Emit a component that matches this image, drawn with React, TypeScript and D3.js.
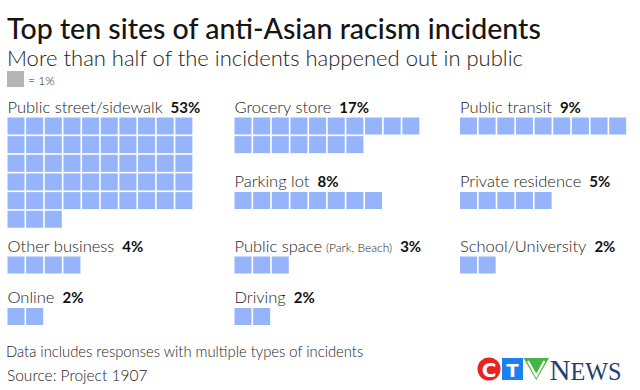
import { useEffect, useRef } from "react";
import * as d3 from "d3";

// site categories and share of incidents (1 square = 1%)
const categories = [
  "Public street/sidewalk",
  "Grocery store",
  "Public transit",
  "Parking lot",
  "Private residence",
  "Other business",
  "Public space",
  "School/University",
  "Online",
  "Driving",
];
const values = [53, 17, 9, 8, 5, 4, 3, 2, 2, 2];
const notes = ["", "", "", "", "", "", "(Park, Beach)", "", "", ""];

// which column / row block each category sits in
const slotCol = [0, 1, 2, 1, 2, 0, 1, 2, 0, 1];
const slotRow = [0, 0, 0, 1, 1, 2, 2, 2, 3, 3];

const W = 640;
const H = 390;
const FONT = "Lato, 'Open Sans', sans-serif";
const CELL_COLOR = "#95b4fb";
const TEXT = "#222";

export default function App() {
  const svgRef = useRef<SVGSVGElement | null>(null);

  useEffect(() => {
    if (!svgRef.current) return;
    const svg = d3.select(svgRef.current);
    svg.selectAll("*").remove();

    svg.append("rect").attr("width", W).attr("height", H).attr("fill", "#fff");

    // title + subtitle
    svg.append("text")
      .attr("x", 7).attr("y", 39)
      .style("font", `500 28.5px ${FONT}`)
      .attr("fill", "#151515")
      .text("Top ten sites of anti-Asian racism incidents");
    svg.append("text")
      .attr("x", 7).attr("y", 66)
      .style("font", `300 22px ${FONT}`)
      .attr("fill", "#222")
      .text("More than half of the incidents happened out in public");

    // legend
    svg.append("rect").attr("x", 7).attr("y", 71).attr("width", 17).attr("height", 16).attr("fill", "#b5b5b5");
    svg.append("text")
      .attr("x", 28).attr("y", 84.5)
      .style("font", `300 12px ${FONT}`)
      .attr("fill", TEXT)
      .text("= 1%");

    const step = 18.65;
    const cell = 17;
    const perRow = 10;

    const colX = d3.scaleOrdinal<number, number>().domain([0, 1, 2]).range([7.5, 234.5, 460]);
    const rowY = d3.scaleOrdinal<number, number>().domain([0, 1, 2, 3]).range([117.5, 192, 256.5, 308]);

    const groups = categories.map((name, i) => ({
      name,
      value: values[i],
      note: notes[i],
      x: colX(slotCol[i]),
      y: rowY(slotRow[i]),
    }));

    const g = svg.selectAll("g.site").data(groups).enter().append("g")
      .attr("class", "site")
      .attr("transform", (d) => `translate(${d.x},${d.y})`);

    const label = g.append("text")
      .attr("x", 0).attr("y", -5)
      .style("font", `300 16.5px ${FONT}`)
      .attr("fill", TEXT);
    label.append("tspan").text((d) => d.name);
    label.filter((d) => !!d.note).append("tspan")
      .attr("dx", 4)
      .style("font-size", "12px")
      .text((d) => d.note);
    label.append("tspan")
      .attr("dx", 8)
      .style("font-weight", 700)
      .style("font-size", "15px")
      .attr("fill", "#111")
      .text((d) => `${d.value}%`);

    g.selectAll("rect.cell")
      .data((d) => d3.range(d.value))
      .enter().append("rect")
      .attr("class", "cell")
      .attr("x", (i) => (i % perRow) * step)
      .attr("y", (i) => Math.floor(i / perRow) * step)
      .attr("width", cell)
      .attr("height", cell)
      .attr("fill", CELL_COLOR);

    // footnotes
    svg.append("text")
      .attr("x", 6).attr("y", 357)
      .style("font", `300 14.8px ${FONT}`)
      .attr("fill", TEXT)
      .text("Data includes responses with multiple types of incidents");
    svg.append("text")
      .attr("x", 7).attr("y", 381)
      .style("font", `300 15.5px ${FONT}`)
      .attr("fill", TEXT)
      .text("Source: Project 1907");

    // CTV News logo
    const logo = svg.append("g").attr("transform", "translate(477,358)");
    logo.append("circle").attr("cx", 12).attr("cy", 11).attr("r", 11.5).attr("fill", "#e5261f");
    logo.append("text").attr("x", 12).attr("y", 18.5).attr("text-anchor", "middle")
      .style("font", "700 20px 'DejaVu Sans', sans-serif").attr("fill", "#fff").text("C");
    logo.append("rect").attr("x", 25).attr("y", 0).attr("width", 21).attr("height", 22).attr("fill", "#1e7ff0");
    logo.append("text").attr("x", 35.5).attr("y", 18.5).attr("text-anchor", "middle")
      .style("font", "700 18px 'DejaVu Sans', sans-serif").attr("fill", "#fff").text("T");
    logo.append("path").attr("d", "M46.5,0 L72,0 L59.25,22 Z").attr("fill", "#45b545");
    logo.append("path").attr("d", "M51,3 L59.25,18 L67.5,3").attr("fill", "none").attr("stroke", "#fff").attr("stroke-width", 2.2);
    const news = logo.append("text").attr("x", 72.5).attr("y", 22)
      .attr("textLength", 72).attr("lengthAdjust", "spacingAndGlyphs")
      .style("font", "400 30px 'Liberation Serif', serif").attr("fill", "#1f3f73");
    news.append("tspan").text("N");
    news.append("tspan").style("font-size", "25px").text("EWS");
  }, []);

  return (
    <div style={{ position: "absolute", left: 0, top: 0 }}>
      <svg ref={svgRef} width={W} height={H} style={{ display: "block" }} />
    </div>
  );
}
